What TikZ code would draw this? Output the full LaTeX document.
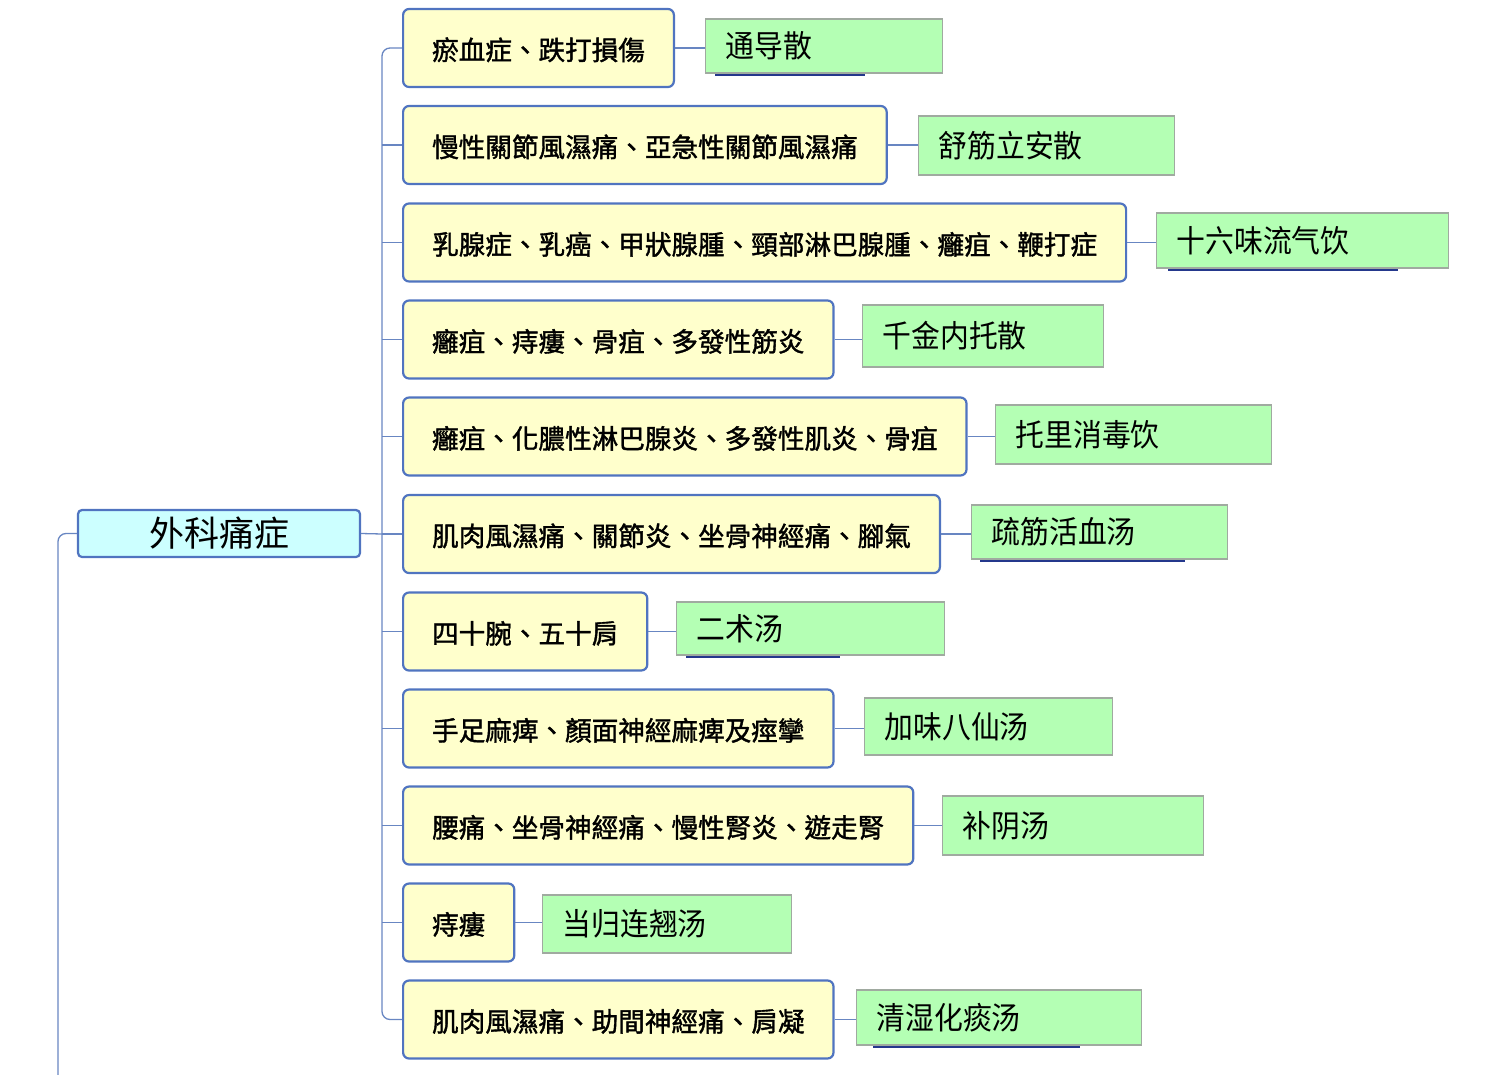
\documentclass[tikz,border=0pt]{standalone}
\usepackage{fontspec}
\setmainfont{Noto Sans CJK TC}
\newfontfamily\illfont[FakeBold=1.4]{Noto Sans CJK TC}
\newfontfamily\curefont[FakeStretch=0.93]{Noto Sans CJK SC}

\definecolor{boxblue}{RGB}{80,116,192}
\definecolor{linkblue}{RGB}{104,134,194}
\definecolor{illyellow}{RGB}{255,255,204}
\definecolor{curegreen}{RGB}{180,255,180}
\definecolor{curegray}{RGB}{160,170,160}
\definecolor{topiccyan}{RGB}{204,255,255}
\definecolor{navy}{RGB}{36,56,140}

\begin{document}
\begin{tikzpicture}[x=1pt, y=-1pt,
  topic/.style={draw=boxblue, line width=2.2pt, fill=topiccyan, rounded corners=4pt,
    minimum width=282pt, minimum height=47pt, inner sep=0pt,
    font=\fontsize{35}{38}\selectfont},
  ill/.style={draw=boxblue, line width=2.2pt, fill=illyellow, rounded corners=6pt,
    inner xsep=29pt, inner ysep=0pt, minimum height=78pt, anchor=west,
    text height=25pt, text depth=1pt,
    font=\illfont\fontsize{26.6}{30}\selectfont},
  cure/.style={draw=curegray, line width=1.3pt, fill=curegreen, inner xsep=20pt,
    inner ysep=0pt, align=left, anchor=west,
    font=\curefont\fontsize{31}{34}\selectfont},
  link/.style={draw=linkblue, line width=1.3pt},
  hidden/.style={draw=navy, line width=2pt}]

\useasboundingbox (0,0) rectangle (1504,1075);

\node[topic] (pain) at (219,533.5) {外科痛症};

\node[ill] (i1) at (402,48) {瘀血症、跌打損傷};
\node[ill] (i2) at (402,145) {慢性關節風濕痛、亞急性關節風濕痛};
\node[ill] (i3) at (402,242.5) {乳腺症、乳癌、甲狀腺腫、頸部淋巴腺腫、癰疽、鞭打症};
\node[ill] (i4) at (402,339.5) {癰疽、痔瘻、骨疽、多發性筋炎};
\node[ill] (i5) at (402,436.5) {癰疽、化膿性淋巴腺炎、多發性肌炎、骨疽};
\node[ill] (i6) at (402,534) {肌肉風濕痛、關節炎、坐骨神經痛、腳氣};
\node[ill] (i7) at (402,631.5) {四十腕、五十肩};
\node[ill] (i8) at (402,728.5) {手足麻痺、顏面神經麻痺及痙攣};
\node[ill] (i9) at (402,825.5) {腰痛、坐骨神經痛、慢性腎炎、遊走腎};
\node[ill] (i10) at (402,922.5) {痔瘻};
\node[ill] (i11) at (402,1019.5) {肌肉風濕痛、助間神經痛、肩凝};

% lines peeking out under some green boxes
\draw[hidden] (715,75) -- (865,75);
\draw[hidden] (1168,270) -- (1398,270);
\draw[hidden] (980,561) -- (1185,561);
\draw[hidden] (686,657) -- (840,657);
\draw[hidden] (873,1047) -- (1080,1047);

\node[cure, text width=197pt, minimum height=54pt] (c1) at (705,46) {通导散};
\node[cure, text width=216pt, minimum height=59pt] (c2) at (918,145.5) {舒筋立安散};
\node[cure, text width=252pt, minimum height=55pt] (c3) at (1156,240.5) {十六味流气饮};
\node[cure, text width=201pt, minimum height=62pt] (c4) at (862,336) {千金内托散};
\node[cure, text width=236pt, minimum height=59pt] (c5) at (995,434.5) {托里消毒饮};
\node[cure, text width=216pt, minimum height=54pt] (c6) at (971,532) {疏筋活血汤};
\node[cure, text width=228pt, minimum height=53pt] (c7) at (676,628.5) {二术汤};
\node[cure, text width=208pt, minimum height=57pt] (c8) at (864,726.5) {加味八仙汤};
\node[cure, text width=221pt, minimum height=59pt] (c9) at (942,825.5) {补阴汤};
\node[cure, text width=209pt, minimum height=58pt] (c10) at (542,924) {当归连翘汤};
\node[cure, text width=245pt, minimum height=55pt] (c11) at (856,1017.5) {清湿化痰汤};

\coordinate (fork) at (382,534);
\coordinate (tail) at (58,1075);

\draw[link, rounded corners=8pt] (pain.west) -| (tail);
\draw[link] (pain.east) -- (fork);
\draw[link, rounded corners=8pt] (i1.west) -| (fork) |- (i11.west);
\draw[link] (i2.west) -- (i2.west -| fork);
\draw[link] (i3.west) -- (i3.west -| fork);
\draw[link] (i4.west) -- (i4.west -| fork);
\draw[link] (i5.west) -- (i5.west -| fork);
\draw[link] (i6.west) -- (i6.west -| fork);
\draw[link] (i7.west) -- (i7.west -| fork);
\draw[link] (i8.west) -- (i8.west -| fork);
\draw[link] (i9.west) -- (i9.west -| fork);
\draw[link] (i10.west) -- (i10.west -| fork);

\draw[link] (i1.east) -- (i1.east -| c1.west);
\draw[link] (i2.east) -- (i2.east -| c2.west);
\draw[link] (i3.east) -- (i3.east -| c3.west);
\draw[link] (i4.east) -- (i4.east -| c4.west);
\draw[link] (i5.east) -- (i5.east -| c5.west);
\draw[link] (i6.east) -- (i6.east -| c6.west);
\draw[link] (i7.east) -- (i7.east -| c7.west);
\draw[link] (i8.east) -- (i8.east -| c8.west);
\draw[link] (i9.east) -- (i9.east -| c9.west);
\draw[link] (i10.east) -- (i10.east -| c10.west);
\draw[link] (i11.east) -- (i11.east -| c11.west);

\end{tikzpicture}
\end{document}
